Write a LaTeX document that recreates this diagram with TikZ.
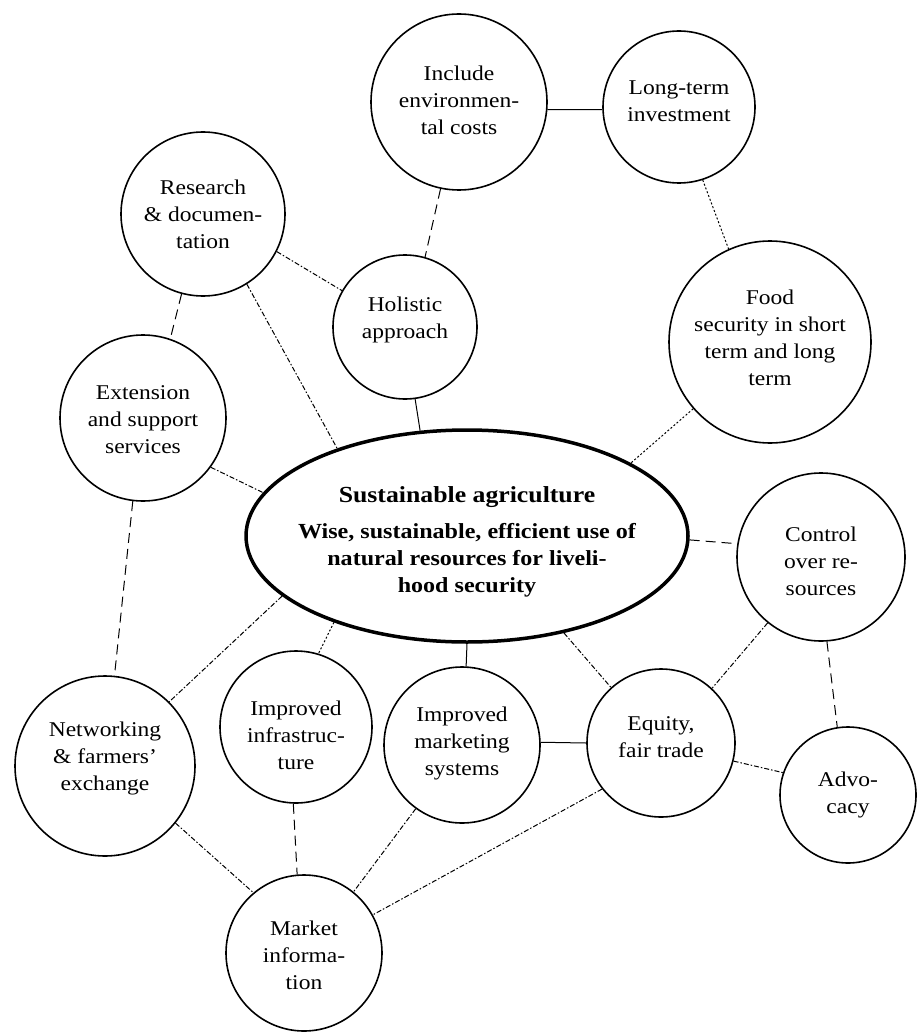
\documentclass[tikz,border=0pt]{standalone}
\usepackage{fontspec}
\setmainfont{Liberation Serif}[FakeStretch=1.12]
\usetikzlibrary{shapes.geometric}
\begin{document}
\begin{tikzpicture}[x=1pt,y=-1pt,
  circ/.style={draw, circle, line width=1.6pt, inner sep=0pt},
  txt/.style={inner sep=0pt, align=center, font=\fontsize{21}{27}\selectfont},
  hub/.style={draw, ellipse, line width=3.5pt, minimum width=442pt, minimum height=212pt, inner sep=0pt},
  hubtxt/.style={inner sep=0pt, align=center, font=\bfseries\fontsize{21.5}{27}\selectfont},
  conn/.style={line width=1pt},
  longdash/.style={conn, dash pattern=on 10pt off 6pt},
  finedot/.style={conn, dash pattern=on 2pt off 2pt},
  dashdot/.style={conn, dash pattern=on 5pt off 2pt on 1.5pt off 2pt}]
\useasboundingbox (0,0) rectangle (916,1035);
\fill[white] (0,0) rectangle (916,1035);

\node[hub] (c) at (467,536) {};
\node[hubtxt] (ct) at (467,542) {{\fontsize{23}{27}\selectfont Sustainable agriculture}\\[9pt]
  Wise, sustainable, efficient use of\\natural resources for liveli-\\hood security};

\node[circ, minimum size=176pt] (inc) at (459,102) {};
\node[txt] (inc-t) at (459,100) {Include\\environmen-\\tal costs};
\node[circ, minimum size=152pt] (lt) at (679,107) {};
\node[txt] (lt-t) at (679,101) {Long-term\\investment};
\node[circ, minimum size=164pt] (res) at (203,214) {};
\node[txt] (res-t) at (203,214) {Research\\\& documen-\\tation};
\node[circ, minimum size=144pt] (hol) at (405,327) {};
\node[txt] (hol-t) at (405,320) {Holistic\\approach};
\node[circ, minimum size=202pt] (food) at (770,342) {};
\node[txt] (food-t) at (770,338) {Food\\security in short\\term and long\\term};
\node[circ, minimum size=166pt] (ext) at (143,418) {};
\node[txt] (ext-t) at (143,420) {Extension\\and support\\services};
\node[circ, minimum size=168pt] (ctl) at (821,557) {};
\node[txt] (ctl-t) at (821,561) {Control\\over re-\\sources};
\node[circ, minimum size=136pt] (adv) at (848,795) {};
\node[txt] (adv-t) at (848,795) {Advo-\\cacy};
\node[circ, minimum size=148pt] (eq) at (661,743) {};
\node[txt] (eq-t) at (661,737) {Equity,\\fair trade};
\node[circ, minimum size=156pt] (mkt) at (462,745) {};
\node[txt] (mkt-t) at (462,743) {Improved\\marketing\\systems};
\node[circ, minimum size=152pt] (inf) at (296,727) {};
\node[txt] (inf-t) at (296,735) {Improved\\infrastruc-\\ture};
\node[circ, minimum size=180pt] (net) at (105,766) {};
\node[txt] (net-t) at (105,758) {Networking\\\& farmers'\\exchange};
\node[circ, minimum size=156pt] (mi) at (304,953) {};
\node[txt] (mi-t) at (304,955) {Market\\informa-\\tion};

\draw[conn] (inc.-5) -- (lt.182);
\draw[finedot] (lt.-72.5) -- (food.114);
\draw[longdash] (inc.258) -- (hol.74);
\draw[dashdot] (res.-27.7) -- (hol.150.8);
\draw[longdash] (res.255.6) -- (ext.71.4);
\draw[dashdot] (res.-58.8) -- (c.146.8);
\draw[conn] (hol.-82) -- (c.114.9);
\draw[finedot] (food.221.1) -- (c.24);
\draw[dashdot] (ext.-36.5) -- (c.168);
\draw[longdash] (ext.263.3) -- (net.84);
\draw[longdash] (c.-1.6) -- (ctl.171.8);
\draw[longdash] (ctl.-86.6) -- (adv.99.2);
\draw[dashdot] (ctl.231) -- (eq.47.2);
\draw[dashdot] (c.-45.9) -- (eq.132.8);
\draw[conn] (c.-90) -- (mkt.87);
\draw[conn] (mkt.2) -- (eq.180);
\draw[dashdot] (eq.-14.2) -- (adv.161.8);
\draw[finedot] (c.213.6) -- (inf.73.7);
\draw[dashdot] (c.198.3) -- (net.45.4);
\draw[longdash] (inf.-92) -- (mi.95.7);
\draw[dashdot] (net.-39.3) -- (mi.130.9);
\draw[dashdot] (mkt.234.5) -- (mi.51.9);
\draw[dashdot] (eq.218.1) -- (mi.29.4);
\end{tikzpicture}
\end{document}
